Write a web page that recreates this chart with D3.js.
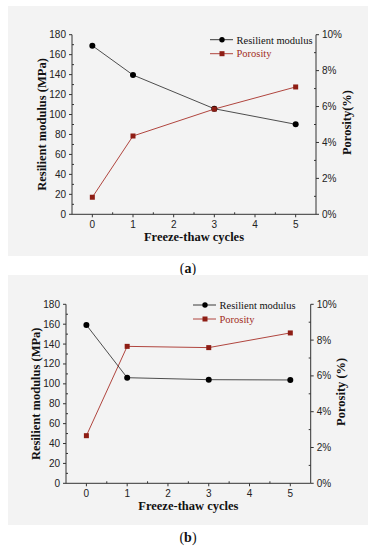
<!DOCTYPE html>
<html>
<head>
<meta charset="utf-8">
<script src="https://cdn.jsdelivr.net/npm/d3@7"></script>
<style>
  body { margin: 0; background: #fff; }
  svg { display: block; }
  .tick-label { font-family: "Liberation Sans", Arial, sans-serif; font-size: 10px; fill: #222; }
  .axis-title { font-family: "Liberation Serif", "Times New Roman", serif; font-size: 12.5px; font-weight: bold; fill: #111; }
  .legend-text { font-family: "Liberation Serif", "Times New Roman", serif; font-size: 10.5px; }
  .caption { font-family: "Liberation Serif", "Times New Roman", serif; font-size: 14px; fill: #111; }
</style>
</head>
<body>
<div id="chart"></div>
<script>
/** data **/
const cycles = [0, 1, 3, 5];
const xTicks = [0, 1, 2, 3, 4, 5];
const modulusTicks = [0, 20, 40, 60, 80, 100, 120, 140, 160, 180];
const porosityTicks = [0, 2, 4, 6, 8, 10];

const modulusA = [169, 139.6, 105.8, 90.2];
const porosityA = [0.95, 4.36, 5.86, 7.09];

const modulusB = [159.2, 106.2, 104.2, 103.9];
const porosityB = [2.66, 7.65, 7.58, 8.4];

const width = 376;
const height = 550;

const blackLine = "#3a3a3a";
const redLine = "#b0453e";
const redMark = "#8e1d14";
const redText = "#a22c22";

const svg = d3.select("#chart")
    .append("svg")
    .attr("width", width)
    .attr("height", height);

function drawPanel(opt) {
    const g = svg.append("g");

    // grey panel background
    g.append("rect")
        .attr("x", 8)
        .attr("y", opt.top)
        .attr("width", 360)
        .attr("height", 250)
        .attr("fill", "#f3f3f3");

    const x = d3.scaleLinear().domain([-0.5, 5.5]).range([opt.left, opt.right]);
    const yL = d3.scaleLinear().domain([0, 180]).range([opt.bottom, opt.yTop]);
    const yR = d3.scaleLinear().domain([0, 10]).range([opt.bottom, opt.yTop]);

    // axes
    const axisColor = "#333";
    g.append("line")
        .attr("x1", opt.left).attr("x2", opt.right)
        .attr("y1", opt.bottom).attr("y2", opt.bottom)
        .attr("stroke", axisColor);
    g.append("line")
        .attr("x1", opt.left).attr("x2", opt.left)
        .attr("y1", opt.bottom).attr("y2", opt.yTop)
        .attr("stroke", axisColor);
    g.append("line")
        .attr("x1", opt.right).attr("x2", opt.right)
        .attr("y1", opt.bottom).attr("y2", opt.yTop)
        .attr("stroke", axisColor);

    // x ticks (major outward, minor inward)
    g.append("g").selectAll("line")
        .data(xTicks)
        .join("line")
        .attr("x1", d => x(d)).attr("x2", d => x(d))
        .attr("y1", opt.bottom).attr("y2", opt.bottom + 3)
        .attr("stroke", axisColor);
    g.append("g").selectAll("line")
        .data(xTicks.map(d => d + 0.5).filter(d => d < 5.5))
        .join("line")
        .attr("x1", d => x(d)).attr("x2", d => x(d))
        .attr("y1", opt.bottom).attr("y2", opt.bottom - 2)
        .attr("stroke", axisColor);
    g.append("g").selectAll("text")
        .data(xTicks)
        .join("text")
        .attr("class", "tick-label")
        .attr("x", d => x(d))
        .attr("y", opt.bottom + 14)
        .attr("text-anchor", "middle")
        .text(d => d);

    // left ticks
    g.append("g").selectAll("line")
        .data(modulusTicks)
        .join("line")
        .attr("x1", opt.left - 3).attr("x2", opt.left)
        .attr("y1", d => yL(d)).attr("y2", d => yL(d))
        .attr("stroke", axisColor);
    g.append("g").selectAll("line")
        .data(modulusTicks.slice(0, -1).map(d => d + 10))
        .join("line")
        .attr("x1", opt.left).attr("x2", opt.left + 2)
        .attr("y1", d => yL(d)).attr("y2", d => yL(d))
        .attr("stroke", axisColor);
    g.append("g").selectAll("text")
        .data(modulusTicks)
        .join("text")
        .attr("class", "tick-label")
        .attr("x", opt.left - 6)
        .attr("y", d => yL(d) + 3.5)
        .attr("text-anchor", "end")
        .text(d => d);

    // right ticks
    g.append("g").selectAll("line")
        .data(porosityTicks)
        .join("line")
        .attr("x1", opt.right).attr("x2", opt.right + 3)
        .attr("y1", d => yR(d)).attr("y2", d => yR(d))
        .attr("stroke", axisColor);
    g.append("g").selectAll("line")
        .data(porosityTicks.slice(0, -1).map(d => d + 1))
        .join("line")
        .attr("x1", opt.right - 2).attr("x2", opt.right)
        .attr("y1", d => yR(d)).attr("y2", d => yR(d))
        .attr("stroke", axisColor);
    g.append("g").selectAll("text")
        .data(porosityTicks)
        .join("text")
        .attr("class", "tick-label")
        .attr("x", opt.right + 6)
        .attr("y", d => yR(d) + 3.5)
        .text(d => d + "%");

    // axis titles
    g.append("text")
        .attr("class", "axis-title")
        .attr("text-anchor", "middle")
        .attr("transform", `translate(${opt.leftTitleX},${(opt.yTop + opt.bottom) / 2}) rotate(-90)`)
        .text("Resilient modulus (MPa)");
    g.append("text")
        .attr("class", "axis-title")
        .attr("text-anchor", "middle")
        .attr("transform", `translate(${opt.rightTitleX},${(opt.yTop + opt.bottom) / 2 - 2}) rotate(-90)`)
        .text(opt.rightTitle);
    g.append("text")
        .attr("class", "axis-title")
        .attr("text-anchor", "middle")
        .attr("x", (opt.left + opt.right) / 2)
        .attr("y", opt.bottom + 27)
        .text("Freeze-thaw cycles");

    // series
    const modLine = d3.line().x((d, i) => x(cycles[i])).y(d => yL(d));
    const porLine = d3.line().x((d, i) => x(cycles[i])).y(d => yR(d));

    g.append("path")
        .attr("d", porLine(opt.porosity))
        .attr("fill", "none")
        .attr("stroke", redLine)
        .attr("stroke-width", 1);
    g.append("path")
        .attr("d", modLine(opt.modulus))
        .attr("fill", "none")
        .attr("stroke", blackLine)
        .attr("stroke-width", 0.9);

    g.append("g").selectAll("circle")
        .data(opt.modulus)
        .join("circle")
        .attr("cx", (d, i) => x(cycles[i]))
        .attr("cy", d => yL(d))
        .attr("r", 3)
        .attr("fill", "#000");
    g.append("g").selectAll("rect")
        .data(opt.porosity)
        .join("rect")
        .attr("x", (d, i) => x(cycles[i]) - 2.5)
        .attr("y", d => yR(d) - 2.5)
        .attr("width", 5)
        .attr("height", 5)
        .attr("fill", redMark);

    // legend
    const lg = g.append("g").attr("transform", `translate(${opt.legendX},${opt.legendY})`);
    lg.append("line").attr("x1", 0).attr("x2", 23).attr("y1", 0).attr("y2", 0)
        .attr("stroke", blackLine);
    lg.append("circle").attr("cx", 12).attr("cy", 0).attr("r", 2.7).attr("fill", "#000");
    lg.append("text").attr("class", "legend-text").attr("x", 26.5).attr("y", 3.8)
        .attr("fill", "#111").text("Resilient modulus");
    lg.append("line").attr("x1", 0).attr("x2", 23).attr("y1", 14).attr("y2", 14)
        .attr("stroke", redLine);
    lg.append("rect").attr("x", 9.5).attr("y", 11.5).attr("width", 5).attr("height", 5)
        .attr("fill", redMark);
    lg.append("text").attr("class", "legend-text").attr("x", 26.5).attr("y", 17.8)
        .attr("fill", redText).text("Porosity");

    // caption
    const cap = svg.append("text")
        .attr("class", "caption")
        .attr("x", opt.captionX)
        .attr("y", opt.captionY)
        .attr("text-anchor", "middle");
    cap.append("tspan").text("(");
    cap.append("tspan").attr("font-weight", "bold").text(opt.letter);
    cap.append("tspan").text(")");
}

drawPanel({
    top: 6, left: 72, right: 316, yTop: 34.7, bottom: 214.3,
    leftTitleX: 46, rightTitleX: 351, rightTitle: "Porosity(%)",
    modulus: modulusA, porosity: porosityA,
    legendX: 210, legendY: 39.7,
    letter: "a", captionX: 188, captionY: 273
});

drawPanel({
    top: 275, left: 66, right: 310.7, yTop: 304.3, bottom: 483.3,
    leftTitleX: 40, rightTitleX: 345, rightTitle: "Porosity (%)",
    modulus: modulusB, porosity: porosityB,
    legendX: 193, legendY: 305,
    letter: "b", captionX: 188, captionY: 542
});
</script>
</body>
</html>
